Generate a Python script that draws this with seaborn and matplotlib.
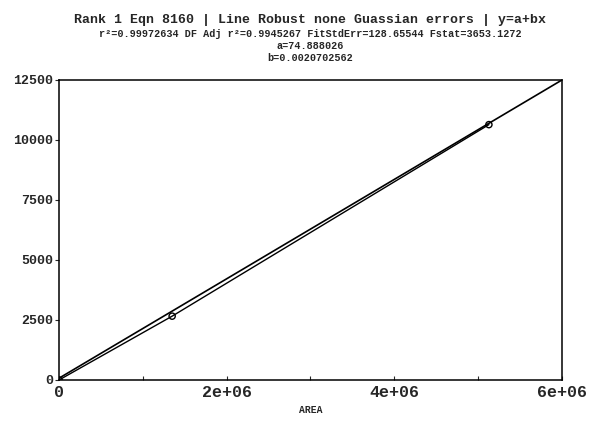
import matplotlib
matplotlib.use("Agg")
import matplotlib.pyplot as plt
import seaborn as sns
import numpy as np
import pandas as pd

# data
area = [0.0, 1.35e6, 5.13e6]
resp = [0.0, 2660.0, 10640.0]
a_coef = 74.888026
b_coef = 0.0020702562
fit_x = [0.0, 6.0e6]
x_ticks = [0, 2e6, 4e6, 6e6]
x_tick_labels = ["0", "2e+06", "4e+06", "6e+06"]
y_ticks = [0, 2500, 5000, 7500, 10000, 12500]

sns.set_style("ticks")
plt.rcParams['font.family'] = ['Liberation Mono', 'DejaVu Sans Mono']

fig = plt.figure(figsize=(5.92, 4.21), dpi=100)
ax = fig.add_axes([0.0997, 0.0974, 0.8493, 0.7126])

df = pd.DataFrame({"AREA": area, "y": resp})
fit_df = pd.DataFrame({"AREA": fit_x, "y": [a_coef + b_coef * v for v in fit_x]})

sns.lineplot(data=fit_df, x="AREA", y="y", ax=ax, color="black", lw=1.2)
sns.lineplot(data=df, x="AREA", y="y", ax=ax, color="black", lw=1.0)
sns.scatterplot(data=df, x="AREA", y="y", ax=ax, marker="o", s=20,
                facecolor="none", edgecolor="black", linewidth=1.0, zorder=5)

ax.set_xlim(0, 6e6)
ax.set_ylim(0, 12500)
ax.set_xticks(x_ticks)
ax.set_xticklabels(x_tick_labels, fontsize=12, fontweight="bold")
ax.set_xticks([1e6, 3e6, 5e6], minor=True)
ax.tick_params(axis="x", which="both", direction="in", length=3, width=0.8)
ax.set_yticks(y_ticks)
ax.set_yticklabels([str(v) for v in y_ticks], fontsize=9.5, fontweight="bold")
ax.tick_params(axis="y", direction="out", length=3, width=0.8, pad=1)
ax.set_xlabel("AREA", fontsize=7, fontweight="bold", labelpad=4)
ax.set_ylabel("")
for s in ax.spines.values():
    s.set_color("black")
    s.set_linewidth(1.1)
    s.set_visible(True)

cx = 0.0997 + 0.8493 / 2
fig.text(cx, 1 - 20 / 421, "Rank 1 Eqn 8160 | Line Robust none Guassian errors | y=a+bx",
         ha="center", va="center", fontsize=9.5, fontweight="bold")
fig.text(cx, 1 - 34 / 421, "r\u00b2=0.99972634 DF Adj r\u00b2=0.9945267 FitStdErr=128.65544 Fstat=3653.1272",
         ha="center", va="center", fontsize=7.3, fontweight="bold")
fig.text(cx, 1 - 46 / 421, "a=74.888026", ha="center", va="center", fontsize=7.3, fontweight="bold")
fig.text(cx, 1 - 58 / 421, "b=0.0020702562", ha="center", va="center", fontsize=7.3, fontweight="bold")

fig.savefig("out.png", dpi=100)
